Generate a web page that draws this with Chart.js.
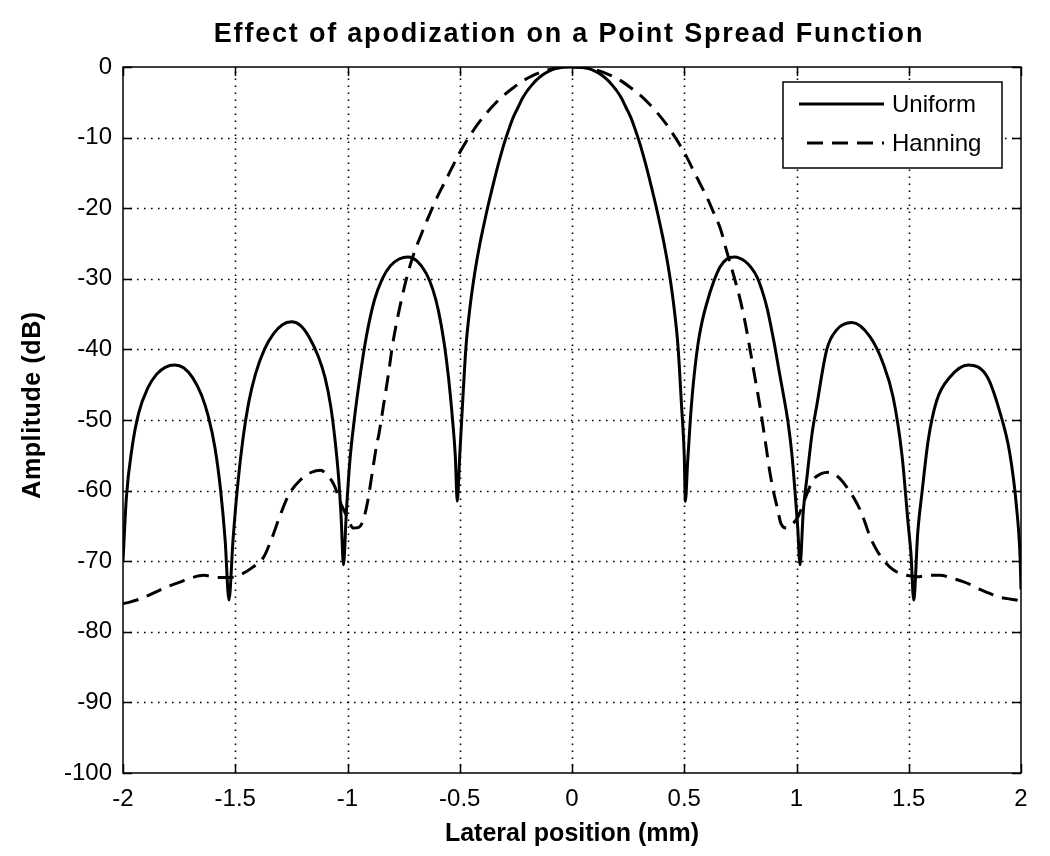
<!DOCTYPE html>
<html><head><meta charset="utf-8">
<script src="https://cdn.jsdelivr.net/npm/chart.js@4.4.1/dist/chart.umd.min.js"></script>
<style>html,body{margin:0;padding:0;background:#fff}#wrap{width:1050px;height:856px;position:relative}</style>
</head><body><div id="wrap"><canvas id="c" width="1050" height="856"></canvas></div>
<script>
const titleText = 'Effect of apodization on a Point Spread Function';
const xAxisTitle = 'Lateral position (mm)';
const yAxisTitle = 'Amplitude (dB)';
const seriesNames = ['Uniform', 'Hanning'];
const xTicks = [-2, -1.5, -1, -0.5, 0, 0.5, 1, 1.5, 2];
const yTicks = [-100, -90, -80, -70, -60, -50, -40, -30, -20, -10, 0];

const uniformX = [-2.00,-1.985,-1.96,-1.93,-1.89,-1.85,-1.81,-1.77,-1.73,-1.69,-1.65,-1.62,-1.59,-1.565,-1.545,-1.528,-1.51,-1.49,-1.465,-1.44,-1.41,-1.37,-1.33,-1.29,-1.25,-1.21,-1.17,-1.13,-1.10,-1.075,-1.055,-1.04,-1.028,-1.018,-1.005,-0.99,-0.97,-0.945,-0.915,-0.88,-0.845,-0.81,-0.77,-0.73,-0.69,-0.65,-0.62,-0.595,-0.57,-0.55,-0.532,-0.52,-0.511,-0.50,-0.488,-0.472,-0.455,-0.44,-0.425,-0.41,-0.395,-0.38,-0.36,-0.34,-0.32,-0.30,-0.28,-0.26,-0.24,-0.22,-0.20,-0.18,-0.16,-0.13,-0.10,-0.07,-0.04,0,
0.04,0.07,0.10,0.13,0.16,0.18,0.20,0.22,0.24,0.26,0.28,0.30,0.32,0.34,0.36,0.38,0.395,0.41,0.425,0.44,0.455,0.472,0.488,0.50,0.505,0.515,0.527,0.54,0.56,0.58,0.60,0.63,0.66,0.69,0.725,0.77,0.80,0.825,0.85,0.87,0.90,0.925,0.945,0.963,0.98,0.993,1.005,1.016,1.03,1.047,1.069,1.09,1.135,1.18,1.247,1.327,1.386,1.43,1.47,1.497,1.51,1.522,1.54,1.56,1.587,1.625,1.684,1.765,1.85,1.907,1.95,1.98,1.996,2.0];
const uniformY = [-70,-61,-54,-49,-45.5,-43.5,-42.5,-42.2,-42.6,-44,-46.5,-49.5,-54,-60,-67,-75.5,-67,-59.5,-52.5,-47.5,-43.5,-40,-37.8,-36.5,-36.1,-36.6,-38.3,-41,-44,-48,-53,-58,-64,-70.5,-63,-56,-50,-44,-38,-33,-30,-28.2,-27.2,-26.9,-27.5,-29.2,-31.5,-34.5,-39,-44,-50,-55,-61.5,-55,-48,-39.5,-34.2,-30.6,-27.6,-25,-22.7,-20.5,-17.8,-15.2,-12.8,-10.6,-8.7,-7.0,-5.7,-4.4,-3.4,-2.6,-1.9,-1.1,-0.55,-0.2,-0.05,0,
-0.05,-0.2,-0.55,-1.1,-1.9,-2.6,-3.4,-4.4,-5.7,-7.0,-8.7,-10.6,-12.8,-15.2,-17.8,-20.5,-22.7,-25,-27.6,-30.6,-34.2,-39.5,-48,-55,-61.5,-56,-50,-45,-39.5,-36,-33.5,-30.5,-28.3,-27.2,-26.9,-27.5,-28.5,-29.8,-32,-34.3,-39,-43.5,-47,-50.5,-55,-60,-65,-70.5,-63,-58,-52,-48,-40,-37.2,-36.2,-38.2,-42,-46.7,-55,-64.6,-69,-75.5,-66,-60,-52.8,-47.2,-43.9,-42.2,-43.9,-49,-54.7,-62.3,-69.5,-74];

const hanningX = [-2.0,-1.97,-1.92,-1.87,-1.81,-1.75,-1.70,-1.64,-1.58,-1.52,-1.47,-1.42,-1.375,-1.34,-1.30,-1.26,-1.21,-1.16,-1.12,-1.09,-1.06,-1.03,-1.00,-0.975,-0.95,-0.93,-0.91,-0.89,-0.87,-0.86,-0.84,-0.82,-0.80,-0.78,-0.76,-0.74,-0.72,-0.70,-0.68,-0.66,-0.64,-0.62,-0.60,-0.57,-0.54,-0.51,-0.48,-0.45,-0.42,-0.38,-0.34,-0.30,-0.26,-0.22,-0.18,-0.14,-0.10,-0.06,0,
0.06,0.10,0.14,0.18,0.22,0.26,0.30,0.34,0.38,0.42,0.45,0.48,0.51,0.54,0.57,0.60,0.62,0.64,0.66,0.69,0.72,0.748,0.77,0.793,0.815,0.837,0.86,0.882,0.90,0.915,0.93,0.956,0.98,1.007,1.04,1.074,1.11,1.149,1.19,1.224,1.255,1.283,1.305,1.327,1.355,1.386,1.415,1.445,1.49,1.535,1.59,1.64,1.69,1.742,1.78,1.817,1.855,1.893,1.94,1.98,2.0];
const hanningY = [-76,-75.8,-75.3,-74.6,-73.7,-73,-72.4,-72,-72.3,-72.3,-71.8,-70.8,-69.5,-67,-63.5,-60.5,-58.5,-57.4,-57.1,-57.8,-59.2,-61.8,-63.8,-65.3,-65.2,-64.2,-61.5,-57.5,-53.5,-52,-48,-44,-39.5,-36,-33,-30.3,-28,-26,-24.4,-22.8,-21.3,-19.8,-18.4,-16.5,-14.6,-12.7,-11,-9.5,-8.1,-6.5,-5.1,-3.9,-2.9,-2.0,-1.3,-0.75,-0.35,-0.1,0,
-0.1,-0.35,-0.75,-1.3,-2.0,-2.9,-3.9,-5.1,-6.5,-8.1,-9.5,-11,-12.7,-14.6,-16.5,-18.4,-19.8,-21.3,-22.8,-26.2,-29.5,-32.8,-36,-40,-44,-48,-52.8,-57.5,-60.5,-62.5,-64.6,-65.3,-64.8,-63.7,-61,-58.5,-57.6,-57.4,-58.2,-59.5,-61,-62.7,-64.5,-66.5,-68.3,-69.8,-70.8,-71.5,-72,-72.2,-72,-72,-72.4,-72.9,-73.4,-74,-74.5,-75,-75.3,-75.5,-75.7];

const FONT = '"Liberation Sans", Arial, Helvetica, sans-serif';

const matlabPlugin = {
  id: 'matlab',
  beforeDatasetsDraw(chart) {
    const {ctx, chartArea: a, scales: {x, y}} = chart;
    ctx.save();
    ctx.strokeStyle = '#000';
    ctx.lineWidth = 1.6;
    ctx.setLineDash([1.6, 5.4]);
    xTicks.forEach(v => {
      if (v === xTicks[0] || v === xTicks[xTicks.length - 1]) return;
      const px = Math.round(x.getPixelForValue(v)) + 0.5;
      ctx.beginPath(); ctx.moveTo(px, a.bottom); ctx.lineTo(px, a.top); ctx.stroke();
    });
    yTicks.forEach(v => {
      if (v === yTicks[0] || v === yTicks[yTicks.length - 1]) return;
      const py = Math.round(y.getPixelForValue(v)) + 0.5;
      ctx.beginPath(); ctx.moveTo(a.left, py); ctx.lineTo(a.right, py); ctx.stroke();
    });
    ctx.restore();
  },
  afterDraw(chart) {
    const {ctx, chartArea: a, scales: {x, y}} = chart;
    ctx.save();
    ctx.strokeStyle = '#000';
    ctx.lineWidth = 1.5;
    ctx.setLineDash([]);
    ctx.strokeRect(a.left, a.top, a.right - a.left, a.bottom - a.top);
    const tl = 9;
    ctx.beginPath();
    xTicks.forEach(v => {
      const px = Math.round(x.getPixelForValue(v)) + 0.5;
      ctx.moveTo(px, a.bottom); ctx.lineTo(px, a.bottom - tl);
      ctx.moveTo(px, a.top); ctx.lineTo(px, a.top + tl);
    });
    yTicks.forEach(v => {
      const py = Math.round(y.getPixelForValue(v)) + 0.5;
      ctx.moveTo(a.left, py); ctx.lineTo(a.left + tl, py);
      ctx.moveTo(a.right, py); ctx.lineTo(a.right - tl, py);
    });
    ctx.stroke();

    // legend
    const bx = a.right - 238, by = a.top + 15, bw = 219, bh = 86;
    ctx.fillStyle = '#fff';
    ctx.fillRect(bx, by, bw, bh);
    ctx.lineWidth = 1.5;
    ctx.strokeRect(bx, by, bw, bh);
    ctx.font = '24px ' + FONT;
    ctx.textBaseline = 'middle';
    ctx.textAlign = 'left';
    ctx.fillStyle = '#000';
    chart.data.datasets.forEach((ds, i) => {
      const ly = by + 22 + i * 39;
      ctx.lineWidth = 3;
      ctx.setLineDash(ds.borderDash || []);
      ctx.beginPath();
      ctx.moveTo(bx + (i === 0 ? 16 : 24), ly);
      ctx.lineTo(bx + 101, ly);
      ctx.stroke();
      ctx.setLineDash([]);
      ctx.fillText(ds.label, bx + 109, ly + 1);
    });

    // titles
    ctx.fillStyle = '#000';
    ctx.textAlign = 'left';
    ctx.textBaseline = 'alphabetic';
    const cx = (a.left + a.right) / 2;
    ctx.font = 'bold 27px ' + FONT;
    ctx.letterSpacing = '1.8px';
    let w = ctx.measureText(titleText).width;
    ctx.fillText(titleText, 569 - w / 2, 42);
    ctx.font = 'bold 25px ' + FONT;
    ctx.letterSpacing = '0px';
    w = ctx.measureText(xAxisTitle).width;
    ctx.fillText(xAxisTitle, cx - w / 2, 841);
    ctx.letterSpacing = '0.6px';
    w = ctx.measureText(yAxisTitle).width;
    ctx.translate(40, 405);
    ctx.rotate(-Math.PI / 2);
    ctx.fillText(yAxisTitle, -w / 2, 0);
    ctx.restore();
  }
};

new Chart(document.getElementById('c'), {
  type: 'line',
  data: {
    datasets: [
      {
        label: seriesNames[0],
        data: uniformX.map((v, i) => ({x: v, y: uniformY[i]})),
        borderColor: '#000', borderWidth: 3, pointRadius: 0,
        cubicInterpolationMode: 'monotone', fill: false
      },
      {
        label: seriesNames[1],
        data: hanningX.map((v, i) => ({x: v, y: hanningY[i]})),
        borderColor: '#000', borderWidth: 3, borderDash: [16, 9], pointRadius: 0,
        cubicInterpolationMode: 'monotone', fill: false
      }
    ]
  },
  options: {
    responsive: false,
    animation: false,
    devicePixelRatio: 1,
    layout: {padding: {top: 67, right: 29, left: 0, bottom: 0}},
    plugins: {legend: {display: false}, title: {display: false}, tooltip: {enabled: false}},
    scales: {
      x: {
        type: 'linear', min: -2, max: 2,
        afterFit(s) { s.height = 83; },
        afterBuildTicks(s) { s.ticks = xTicks.map(v => ({value: v})); },
        grid: {display: false, drawTicks: false},
        border: {display: false},
        ticks: {color: '#000', padding: 12, maxRotation: 0, autoSkip: false,
          font: {family: FONT, size: 24}, callback: v => String(v)}
      },
      y: {
        type: 'linear', min: -100, max: 0,
        afterFit(s) { s.width = 123; },
        afterBuildTicks(s) { s.ticks = yTicks.map(v => ({value: v})); },
        grid: {display: false, drawTicks: false},
        border: {display: false},
        ticks: {color: '#000', padding: 11, autoSkip: false,
          font: {family: FONT, size: 24}, callback: v => String(v)}
      }
    }
  },
  plugins: [matlabPlugin]
});
</script>
</body></html>
